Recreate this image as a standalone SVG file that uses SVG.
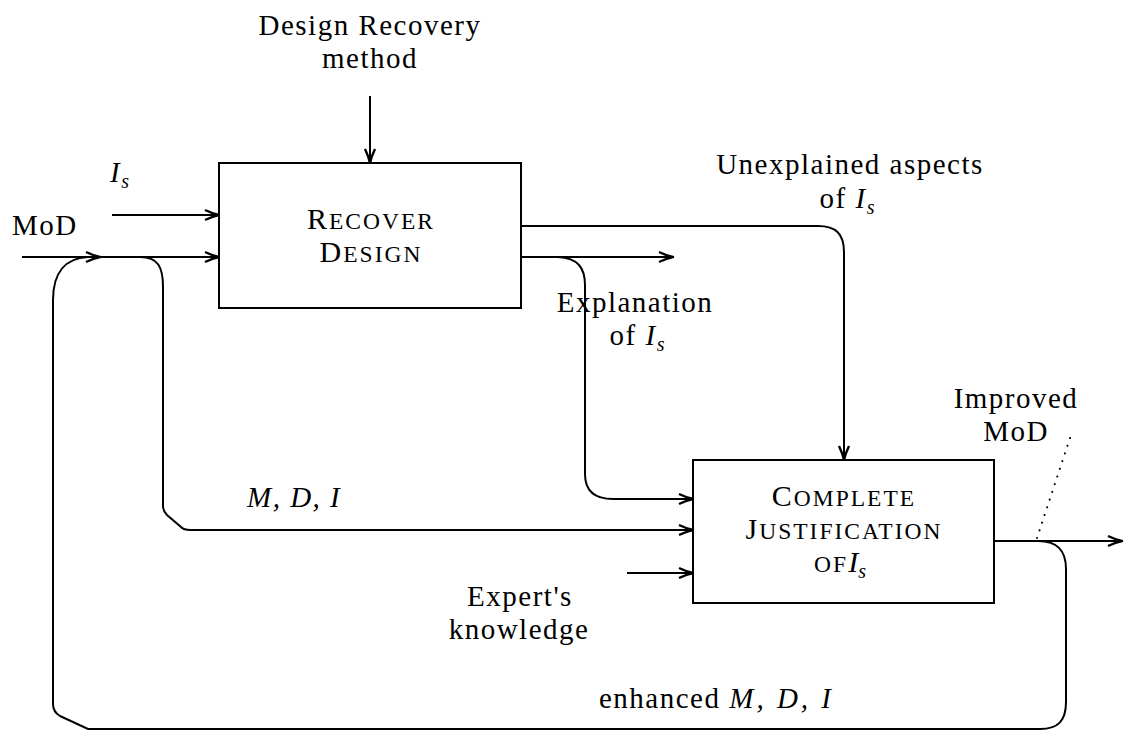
<svg xmlns="http://www.w3.org/2000/svg" width="1124" height="732" viewBox="0 0 1124 732">
<style>
text{font-family:"Liberation Serif","DejaVu Serif",serif;font-size:29px;letter-spacing:1.5px;fill:#000}
.c{text-anchor:middle}
.it{font-style:italic}
.sub{font-size:20px;font-style:italic;letter-spacing:0}
.sc{font-size:30px;letter-spacing:2px}
.lc{font-size:23.5px}
.box{fill:#fff;stroke:#000;stroke-width:2}
.ln{fill:none;stroke:#000;stroke-width:2}
.arr{marker-end:url(#ah)}
.dot{fill:none;stroke:#000;stroke-width:2;stroke-dasharray:0.1 8;stroke-linecap:round}
</style>
<defs>
<marker id="ah" viewBox="-16 -7 18 14" refX="0" refY="0" markerWidth="18" markerHeight="14" orient="auto" markerUnits="userSpaceOnUse">
<path d="M-14,-5 Q-6,-1.2 0,0 Q-6,1.2 -14,5" fill="none" stroke="#000" stroke-width="2.4" stroke-linejoin="round"/>
</marker>
</defs>
<rect width="1124" height="732" fill="#fff"/>
<g id="connectors">
<path class="ln arr" d="M370 96 L370 163"/>
<path class="ln arr" d="M112 215 L219 215"/>
<path class="ln arr" d="M22 257 L219 257"/>
<path class="ln arr" d="M521 226 L818 226 C836 226 844 234 844 252 L844 460"/>
<path class="ln arr" d="M521 257 L673 257"/>
<path class="ln arr" d="M558 257 C578 258 585 268 585 285 L585 474 C585 491 595 499 613 499 L693 499"/>
<path class="ln arr" d="M140 257 C158 257 163 267 163 287 L163 506 Q163 511 167 515 L181 527 Q184 530 190 530 L693 530"/>
<path class="ln arr" d="M627 573 L693 573"/>
<path class="ln arr" d="M994 541 L1122 541"/>
<path class="ln arr" d="M1038 541 C1058 541 1066 551 1066 569 L1066 702 C1066 721 1058 729 1040 729 L88 729 L60 716 Q53 712 53 704 L53 300 C53 272 66 258 88 257 L100 257"/>
<path class="dot" d="M1070 438 L1037 538"/>
</g>
<g id="recover-design">
<rect class="box" x="219" y="163" width="302" height="145"/>
<text class="c sc" x="371" y="229">R<tspan class="lc">ECOVER</tspan></text>
<text class="c sc" x="371" y="262">D<tspan class="lc">ESIGN</tspan></text>
</g>
<g id="complete-justification">
<rect class="box" x="693" y="460" width="301" height="143"/>
<text class="c sc" x="844" y="506">C<tspan class="lc">OMPLETE</tspan></text>
<text class="c sc" x="844" y="539">J<tspan class="lc">USTIFICATION</tspan></text>
<text class="c sc" x="840" y="572"><tspan class="lc">OF</tspan><tspan class="it" letter-spacing="0">I</tspan><tspan class="sub" dy="6">s</tspan></text>
</g>
<g id="labels">
<text class="c" x="370" y="35">Design Recovery</text>
<text class="c" x="370" y="68">method</text>
<text x="110" y="182"><tspan class="it">I</tspan><tspan class="sub" dy="6">s</tspan></text>
<text x="12" y="235">MoD</text>
<text class="c" x="850" y="174">Unexplained aspects</text>
<text class="c" x="847" y="208">of <tspan class="it">I</tspan><tspan class="sub" dy="6">s</tspan></text>
<text class="c" x="635" y="312">Explanation</text>
<text class="c" x="637" y="345">of <tspan class="it">I</tspan><tspan class="sub" dy="6">s</tspan></text>
<text class="c" x="1016" y="408">Improved</text>
<text class="c" x="1016" y="441">MoD</text>
<text class="it" x="247" y="507" letter-spacing="3">M, D, I</text>
<text class="c" x="520" y="606">Expert's</text>
<text class="c" x="519" y="639">knowledge</text>
<text x="599" y="708">enhanced <tspan class="it" letter-spacing="3">M, D, I</tspan></text>
</g>
</svg>
